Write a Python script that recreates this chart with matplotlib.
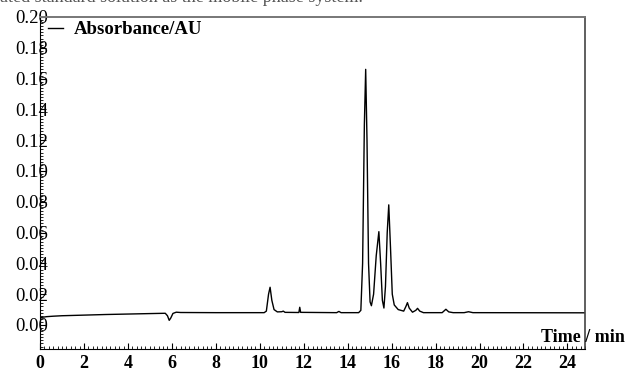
import matplotlib.pyplot as plt
import numpy as np
from matplotlib.ticker import MultipleLocator

plt.rcParams['font.family'] = ['Liberation Serif', 'DejaVu Serif']

# chromatogram (time in min, absorbance in AU)
time_min = [0.0, 0.1, 0.3, 0.6, 1.0, 2.0, 3.0, 4.0, 5.0, 5.7, 5.8, 5.88, 5.95, 6.05,
            6.2, 6.4, 8.0, 10.2, 10.3, 10.4, 10.47, 10.55, 10.65, 10.8, 11.0, 11.07,
            11.15, 11.78, 11.82, 11.86, 13.5, 13.6, 13.7, 14.5, 14.6, 14.68, 14.76,
            14.82, 14.88, 14.95, 15.02, 15.08, 15.18, 15.3, 15.42, 15.5, 15.58, 15.65,
            15.72, 15.8, 15.87, 15.95, 16.03, 16.12, 16.3, 16.55, 16.65, 16.72, 16.8,
            16.95, 17.1, 17.18, 17.28, 17.45, 18.3, 18.4, 18.47, 18.6, 18.8, 19.3,
            19.5, 19.7, 24.8]
absorbance = [0.0045, 0.0050, 0.0054, 0.0057, 0.0060, 0.0064, 0.0068, 0.0071, 0.0074,
              0.0076, 0.0060, 0.0030, 0.0045, 0.0075, 0.0083, 0.0081, 0.0080, 0.0080,
              0.0090, 0.0200, 0.0245, 0.0160, 0.0100, 0.0085, 0.0086, 0.0090, 0.0082,
              0.0081, 0.0115, 0.0082, 0.0080, 0.0088, 0.0080, 0.0080, 0.0095, 0.040,
              0.130, 0.166, 0.120, 0.040, 0.015, 0.0125, 0.020, 0.045, 0.0606, 0.040,
              0.016, 0.011, 0.025, 0.060, 0.078, 0.050, 0.020, 0.013, 0.010, 0.009,
              0.012, 0.0145, 0.011, 0.0083, 0.0095, 0.0108, 0.009, 0.0080, 0.0080,
              0.0093, 0.0102, 0.0085, 0.0080, 0.0080, 0.0086, 0.0080, 0.0079]

x_ticks = np.arange(0, 25, 2)
y_ticks = np.arange(0, 0.201, 0.02)

fig = plt.figure(figsize=(6.26, 3.73), dpi=100)
ax = fig.add_axes([40 / 626, 1 - 349 / 373, 545 / 626, 332 / 373])

ax.plot(time_min, absorbance, color='black', lw=1.0, label='Absorbance/AU')

ax.set_xlim(0, 24.8)
ax.set_ylim(-0.0156, 0.2)
ax.set_xticks(x_ticks)
ax.set_yticks(y_ticks)
ax.set_xticklabels([str(v) for v in x_ticks], fontweight='bold', fontsize=13)
ax.set_yticklabels([f'{v:.2f}' for v in y_ticks], fontsize=13.5)
ax.xaxis.set_minor_locator(MultipleLocator(0.2))
ax.yaxis.set_minor_locator(MultipleLocator(0.002))
ax.tick_params(which='major', direction='in', length=4, width=0.8)
ax.tick_params(which='minor', direction='in', length=2, width=0.6)
ax.tick_params(axis='y', which='major', pad=-6)
ax.tick_params(axis='x', which='major', pad=4)

ax.spines['top'].set_color('#777777')
ax.spines['top'].set_linewidth(1.4)
ax.spines['right'].set_color('#444444')
ax.spines['right'].set_linewidth(1.2)

ax.legend(loc='upper left', bbox_to_anchor=(0.001, 1.01), frameon=False,
          handlelength=0.8, handletextpad=0.6, borderaxespad=0.0,
          prop={'weight': 'bold', 'size': 13.5})

fig.text(625 / 626, 1 - 337 / 373, 'Time / min', ha='right', va='center',
         fontsize=13, fontweight='bold')

# caption of the page, cut off at the top edge
fig.text(0.0, 1 - 2.5 / 373, 'ated standard solution as the mobile phase system.',
         ha='left', va='baseline', fontsize=13, color='#555555')

fig.savefig('out.png', dpi=100)
